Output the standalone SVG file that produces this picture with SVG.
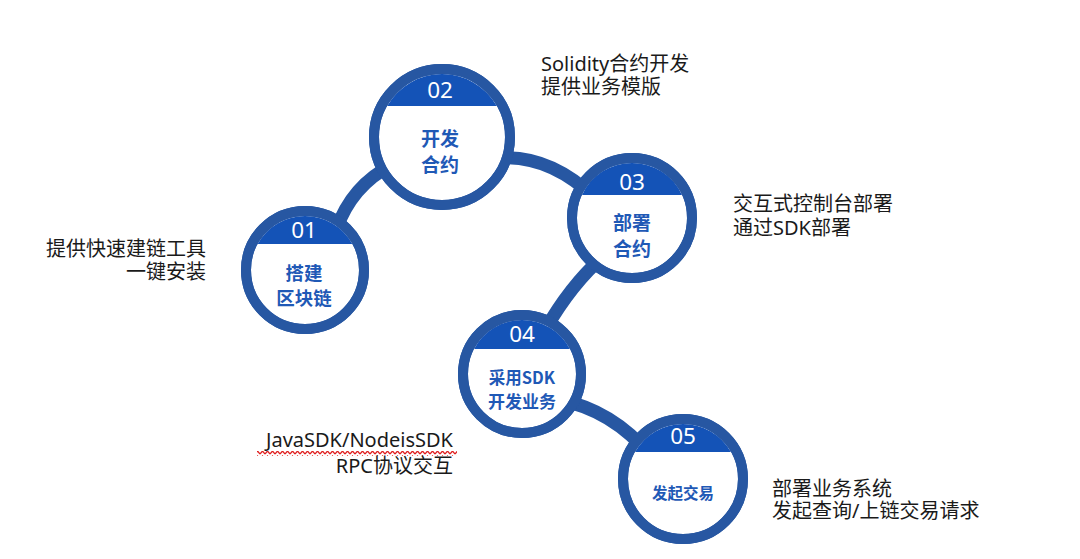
<svg xmlns="http://www.w3.org/2000/svg" width="1080" height="559" viewBox="0 0 1080 559">
<defs>
<style>
.ring{fill:#fff;stroke:#2757a2;stroke-width:10}
.band{fill:#1453b7}
.num{font-family:"Noto Sans","Open Sans",sans-serif;font-size:22.5px;fill:#fff;text-anchor:middle;dominant-baseline:central}
.lbl{font-family:"Noto Sans CJK SC","Noto Sans",sans-serif;font-weight:bold;fill:#1f59b6;text-anchor:middle;dominant-baseline:central}
.desc{font-family:"Noto Sans","Noto Sans CJK SC",sans-serif;font-size:20px;fill:#1a1a1a}
.conn{fill:none;stroke:#2757a2;stroke-width:13}
</style>
<pattern id="wave" width="5" height="5" patternUnits="userSpaceOnUse">
<path d="M0 4 L2.5 1 L5 4" fill="none" stroke="#e02020" stroke-width="1.2"/>
</pattern>
</defs>
<rect width="1080" height="559" fill="#fff"/>
<g id="connectors">
<path class="conn" d="M336 230 Q352 185 392 165"/>
<path class="conn" d="M500 158 Q550 155 595 198"/>
<path class="conn" d="M605 255 Q572 283 545 330"/>
<path class="conn" d="M560 400 Q612 410 650 455"/>
</g>
<g id="node01">
<circle class="ring" cx="305" cy="270" r="59"/>
<path class="band" d="M257.7 244 A54 54 0 0 1 352.3 244 Z"/>
<circle cx="305" cy="270" r="59" fill="none" stroke="#2757a2" stroke-width="10"/>
<text class="num" x="304" y="229">01</text>
<text class="lbl" x="304" y="272" font-size="18.5">搭建</text>
<text class="lbl" x="304" y="297" font-size="18.5">区块链</text>
</g>
<g id="node02">
<circle class="ring" cx="442" cy="137" r="68"/>
<path class="band" d="M387.2 106 A63 63 0 0 1 496.8 106 Z"/>
<circle cx="442" cy="137" r="68" fill="none" stroke="#2757a2" stroke-width="10"/>
<text class="num" x="440" y="89">02</text>
<text class="lbl" x="440" y="137" font-size="19">开发</text>
<text class="lbl" x="440" y="163" font-size="19">合约</text>
</g>
<g id="node03">
<circle class="ring" cx="632" cy="218" r="60"/>
<path class="band" d="M582 195 A55 55 0 0 1 682 195 Z"/>
<circle cx="632" cy="218" r="60" fill="none" stroke="#2757a2" stroke-width="10"/>
<text class="num" x="632" y="181">03</text>
<text class="lbl" x="632" y="221" font-size="19">部署</text>
<text class="lbl" x="632" y="247" font-size="19">合约</text>
</g>
<g id="node04">
<circle class="ring" cx="522" cy="374" r="59"/>
<path class="band" d="M474.1 349 A54 54 0 0 1 569.9 349 Z"/>
<circle cx="522" cy="374" r="59" fill="none" stroke="#2757a2" stroke-width="10"/>
<text class="num" x="522" y="333">04</text>
<text class="lbl" x="522" y="377" font-size="16.5">采用SDK</text>
<text class="lbl" x="522" y="400" font-size="17">开发业务</text>
</g>
<g id="node05">
<circle class="ring" cx="683" cy="479" r="60"/>
<path class="band" d="M635.1 452 A55 55 0 0 1 730.9 452 Z"/>
<circle cx="683" cy="479" r="60" fill="none" stroke="#2757a2" stroke-width="10"/>
<text class="num" x="683" y="435">05</text>
<text class="lbl" x="683" y="492" font-size="15.5">发起交易</text>
</g>
<g id="descriptions">
<text class="desc" x="206" y="256" text-anchor="end">提供快速建链工具</text>
<text class="desc" x="206" y="279" text-anchor="end">一键安装</text>
<text class="desc" x="541" y="71" font-size="20.5">Solidity合约开发</text>
<text class="desc" x="541" y="94">提供业务模版</text>
<text class="desc" x="733" y="211">交互式控制台部署</text>
<text class="desc" x="733" y="235">通过SDK部署</text>
<text class="desc" x="453" y="447" text-anchor="end" font-size="21.5">JavaSDK/NodeisSDK</text>
<rect x="257" y="451" width="200" height="5" fill="url(#wave)"/>
<text class="desc" x="453" y="473" text-anchor="end" font-size="20.5">RPC协议交互</text>
<text class="desc" x="772" y="496">部署业务系统</text>
<text class="desc" x="772" y="518">发起查询/上链交易请求</text>
</g>
</svg>
